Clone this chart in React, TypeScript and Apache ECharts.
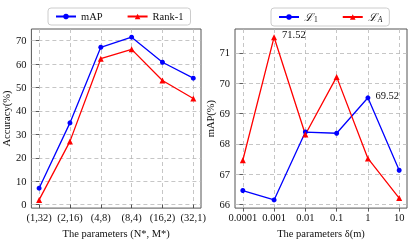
import React, { useEffect, useRef } from "react";
import * as echarts from "echarts";

const leftCategories = ["(1,32)", "(2,16)", "(4,8)", "(8,4)", "(16,2)", "(32,1)"];
const leftMAP = [7.0, 34.9, 67.2, 71.5, 60.8, 54.0];
const leftRank1 = [2.0, 27.0, 62.3, 66.3, 53.0, 45.3];
const leftYTicks = [0, 10, 20, 30, 40, 50, 60, 70];

const rightCategories = ["0.0001", "0.001", "0.01", "0.1", "1", "10"];
const rightL1 = [66.46, 66.15, 68.39, 68.35, 69.52, 67.13];
const rightLA = [67.46, 71.52, 68.31, 70.21, 67.52, 66.21];
const rightYTicks = [66, 67, 68, 69, 70, 71];
const labelledL1Index = 4;
const labelledLAIndex = 1;

const FONT = "Liberation Serif";
const BLUE = "#0000ff";
const RED = "#ff0000";

export default function App() {
  const ref = useRef<HTMLDivElement>(null);
  useEffect(() => {
    if (!ref.current) return;
    const chart = echarts.init(ref.current, undefined, { renderer: "svg" });
    const idx = leftCategories.map((_, i) => i);
    const splitLine = { show: true, lineStyle: { color: "#b8b8b8", type: [4, 3] as any, width: 0.8 } };
    const axisTick = (vals: number[]) => ({ show: true, inside: false, length: 3.5, customValues: vals, lineStyle: { color: "#333", width: 0.8 } });
    const xAxisBase = (cats: string[], name: string, gridIndex: number) => ({
      type: "value" as const,
      gridIndex,
      min: -0.25,
      max: 5.25,
      name,
      nameLocation: "middle" as const,
      nameGap: 14,
      nameTextStyle: { fontFamily: FONT, fontSize: 10.5, color: "#111" },
      axisLine: { show: false },
      axisTick: axisTick(idx),
      axisLabel: {
        customValues: idx,
        formatter: (v: number) => cats[Math.round(v)] ?? "",
        fontFamily: FONT,
        fontSize: 10.5,
        color: "#111",
        margin: 4,
      },
      splitLine,
    });
    const yAxisBase = (min: number, max: number, ticks: number[], name: string, gridIndex: number) => ({
      type: "value" as const,
      gridIndex,
      min,
      max,
      name,
      nameLocation: "middle" as const,
      nameGap: 15,
      nameTextStyle: { fontFamily: FONT, fontSize: 10.5, color: "#111" },
      axisLine: { show: false },
      axisTick: axisTick(ticks),
      axisLabel: { customValues: ticks, fontFamily: FONT, fontSize: 10.5, color: "#111", margin: 5 },
      splitLine,
    });
    const legendBase = {
      top: 8,
      itemWidth: 20,
      itemHeight: 7,
      itemGap: 24,
      padding: [3, 7],
      borderColor: "#cccccc",
      borderWidth: 1,
      borderRadius: 3,
      textStyle: { fontFamily: FONT, fontSize: 10.5, color: "#111" },
    };
    chart.setOption({
      animation: false,
      textStyle: { fontFamily: FONT },
      grid: [
        { left: 29, top: 29, width: 172, height: 189, show: true, borderColor: "#555", borderWidth: 1, backgroundColor: "transparent" },
        { left: 235, top: 29, width: 172, height: 189, show: true, borderColor: "#555", borderWidth: 1, backgroundColor: "transparent" },
      ],
      legend: [
        { ...legendBase, left: 48, data: ["mAP", "Rank-1"] },
        {
          ...legendBase,
          left: 271,
          data: ["L1", "LA"],
          formatter: (n: string) => (n === "L1" ? "{m|ℒ}{s|1}" : "{m|ℒ}{a|A}"),
          textStyle: {
            fontFamily: FONT,
            fontSize: 10.5,
            color: "#111",
            rich: {
              m: { fontFamily: "DejaVu Serif", fontSize: 11, fontStyle: "italic", color: "#111", lineHeight: 12 },
              s: { fontFamily: FONT, fontSize: 7.5, color: "#111", verticalAlign: "bottom", lineHeight: 8, padding: [4, 0, 0, 1] },
              a: { fontFamily: FONT, fontSize: 7.5, fontStyle: "italic", color: "#111", verticalAlign: "bottom", lineHeight: 8, padding: [4, 0, 0, 1] },
            },
          },
        },
      ],
      xAxis: [
        xAxisBase(leftCategories, "The parameters (N*, M*)", 0),
        xAxisBase(rightCategories, "The parameters δ(m)", 1),
      ],
      yAxis: [
        yAxisBase(-1.5, 75, leftYTicks, "Accuracy(%)", 0),
        yAxisBase(65.88, 71.79, rightYTicks, "mAP(%)", 1),
      ],
      series: [
        {
          name: "mAP", type: "line", xAxisIndex: 0, yAxisIndex: 0,
          data: leftMAP.map((v, i) => [i, v]),
          symbol: "circle", symbolSize: 5,
          itemStyle: { color: BLUE }, lineStyle: { color: BLUE, width: 1.3 },
        },
        {
          name: "Rank-1", type: "line", xAxisIndex: 0, yAxisIndex: 0,
          data: leftRank1.map((v, i) => [i, v]),
          symbol: "triangle", symbolSize: 6,
          itemStyle: { color: RED }, lineStyle: { color: RED, width: 1.3 },
        },
        {
          name: "L1", type: "line", xAxisIndex: 1, yAxisIndex: 1,
          data: rightL1.map((v, i) =>
            i === labelledL1Index
              ? { value: [i, v], label: { show: true, position: "right", offset: [0, -2], formatter: (p: any) => p.value[1].toFixed(2), fontFamily: FONT, fontSize: 10.5, color: "#111" } }
              : [i, v]
          ),
          symbol: "circle", symbolSize: 5,
          itemStyle: { color: BLUE }, lineStyle: { color: BLUE, width: 1.3 },
        },
        {
          name: "LA", type: "line", xAxisIndex: 1, yAxisIndex: 1,
          data: rightLA.map((v, i) =>
            i === labelledLAIndex
              ? { value: [i, v], label: { show: true, position: "right", offset: [0, -3], formatter: (p: any) => p.value[1].toFixed(2), fontFamily: FONT, fontSize: 10.5, color: "#111" } }
              : [i, v]
          ),
          symbol: "triangle", symbolSize: 6,
          itemStyle: { color: RED }, lineStyle: { color: RED, width: 1.3 },
        },
      ],
    });
    return () => chart.dispose();
  }, []);
  return <div ref={ref} style={{ position: "fixed", left: 0, top: 0, width: 416, height: 244 }} />;
}
